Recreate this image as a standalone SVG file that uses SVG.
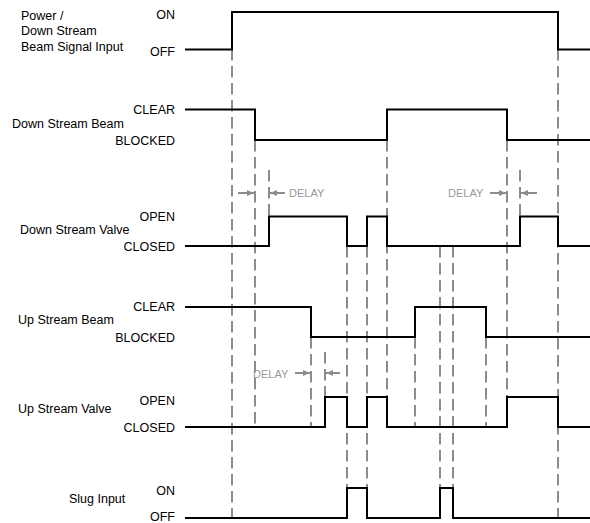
<svg xmlns="http://www.w3.org/2000/svg" width="590" height="523" viewBox="0 0 590 523">
<defs>
<marker id="ah" markerUnits="userSpaceOnUse" markerWidth="7" markerHeight="6" refX="7" refY="3" orient="auto">
<path d="M0,0 L7,3 L0,6 z" fill="#8c8c8c"/>
</marker>
</defs>
<style>
.sig{fill:none;stroke:#000;stroke-width:2}
.dash{fill:none;stroke:#8c8c8c;stroke-width:2;stroke-dasharray:11.5 5.5}
.arr{fill:none;stroke:#8c8c8c;stroke-width:2;marker-end:url(#ah)}
.lbl{font-family:"Liberation Sans",Arial,sans-serif;font-size:12.5px;fill:#000}
.lv{font-family:"Liberation Sans",Arial,sans-serif;font-size:12.5px;fill:#000;text-anchor:end}
.dl{font-family:"Liberation Sans",Arial,sans-serif;font-size:11px;fill:#999}
</style>
<rect width="590" height="523" fill="#fff"/>
<g id="connectors">
<path class="dash" d="M232,49 V518"/>
<path class="dash" d="M255,140 V427"/>
<path class="dash" d="M269,170 V216"/>
<path class="dash" d="M311,337 V427"/>
<path class="dash" d="M325,352 V397"/>
<path class="dash" d="M347,246 V488"/>
<path class="dash" d="M367,246 V488"/>
<path class="dash" d="M387,140 V427"/>
<path class="dash" d="M415,337 V427"/>
<path class="dash" d="M440,246 V488"/>
<path class="dash" d="M453,246 V488"/>
<path class="dash" d="M486,337 V427"/>
<path class="dash" d="M507,140 V427"/>
<path class="dash" d="M520,170 V216"/>
<path class="dash" d="M558,49 V518"/>
</g>
<g id="delay1">
<path class="arr" d="M238,193 H254"/>
<path class="arr" d="M285,193 H270"/>
<text class="dl" x="289" y="197">DELAY</text>
</g>
<g id="delay2">
<path class="arr" d="M490,193 H506"/>
<path class="arr" d="M537,193 H521"/>
<text class="dl" x="448" y="197">DELAY</text>
</g>
<g id="delay3">
<path class="arr" d="M295,373 H310"/>
<path class="arr" d="M340,373 H326"/>
<text class="dl" x="253" y="377.5">DELAY</text>
</g>
<g id="power">
<text class="lbl" x="21" y="19.5">Power /</text>
<text class="lbl" x="21" y="35">Down Stream</text>
<text class="lbl" x="21" y="50.5">Beam Signal Input</text>
<text class="lv" x="175" y="18.5">ON</text>
<text class="lv" x="175" y="56">OFF</text>
<path class="sig" d="M185,49.5 H232 V12 H558 V49.5 H590"/>
</g>
<g id="ds-beam">
<text class="lbl" x="12" y="127.5">Down Stream Beam</text>
<text class="lv" x="175" y="114">CLEAR</text>
<text class="lv" x="175" y="145">BLOCKED</text>
<path class="sig" d="M185,109.5 H255 V140 H387 V109.5 H507 V140 H590"/>
</g>
<g id="ds-valve">
<text class="lbl" x="20" y="234">Down Stream Valve</text>
<text class="lv" x="175" y="221">OPEN</text>
<text class="lv" x="175" y="250.5">CLOSED</text>
<path class="sig" d="M185,246 H269 V216.5 H347 V246 H367 V216.5 H387 V246 H520 V216.5 H558 V246 H590"/>
</g>
<g id="us-beam">
<text class="lbl" x="18" y="323.5">Up Stream Beam</text>
<text class="lv" x="175" y="311">CLEAR</text>
<text class="lv" x="175" y="342">BLOCKED</text>
<path class="sig" d="M185,307 H311 V337 H415 V307 H486 V337 H590"/>
</g>
<g id="us-valve">
<text class="lbl" x="18" y="413">Up Stream Valve</text>
<text class="lv" x="175" y="404.5">OPEN</text>
<text class="lv" x="175" y="431.5">CLOSED</text>
<path class="sig" d="M185,427 H325 V397 H347 V427 H367 V397 H387 V427 H507 V397 H558 V427 H590"/>
</g>
<g id="slug">
<text class="lbl" x="69" y="503">Slug Input</text>
<text class="lv" x="175" y="495">ON</text>
<text class="lv" x="175" y="521">OFF</text>
<path class="sig" d="M185,518 H347 V488 H367 V518 H440 V488 H453 V518 H590"/>
</g>
</svg>
